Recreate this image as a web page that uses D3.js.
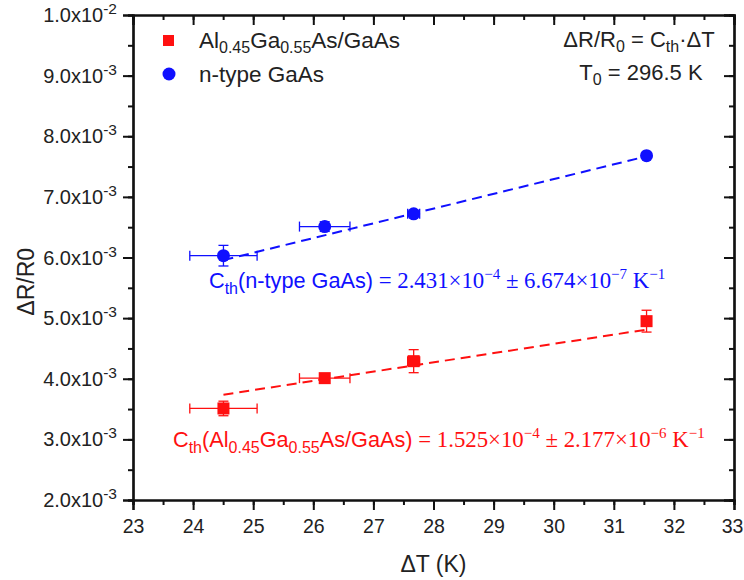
<!DOCTYPE html>
<html>
<head>
<meta charset="utf-8">
<script src="https://cdn.jsdelivr.net/npm/d3@7/dist/d3.min.js"></script>
<style>
  html, body { margin: 0; padding: 0; background: #fff; }
  svg { display: block; }
  text { font-family: "Liberation Sans", Arial, sans-serif; }
  .serif { font-family: "Liberation Serif", "Times New Roman", serif; }
</style>
</head>
<body>
<svg id="chart" width="744" height="580"></svg>
<script>
// ΔT (K) for each measurement, shared by both samples
const deltaT = [24.505, 26.19, 27.67, 31.545];
// horizontal uncertainty of ΔT
const deltaTErr = [0.56, 0.42, 0.1, 0.05];

// ΔR/R0 for the AlGaAs/GaAs sample
const algaasValues = [3.51e-3, 4.01e-3, 4.29e-3, 4.95e-3];
const algaasErr = [0.12e-3, 0.05e-3, 0.19e-3, 0.18e-3];
const algaasSlope = 1.525e-4;

// ΔR/R0 for the n-type GaAs sample
const gaasValues = [6.03e-3, 6.51e-3, 6.72e-3, 7.68e-3];
const gaasErr = [0.17e-3, 0.08e-3, 0.05e-3, 0.04e-3];
const gaasSlope = 2.431e-4;

// axis ticks
const xTicks = [23, 24, 25, 26, 27, 28, 29, 30, 31, 32, 33];
const yTickMantissa = ["2.0", "3.0", "4.0", "5.0", "6.0", "7.0", "8.0", "9.0", "1.0"];
const yTickExponent = ["-3", "-3", "-3", "-3", "-3", "-3", "-3", "-3", "-2"];
const yTicks = [2e-3, 3e-3, 4e-3, 5e-3, 6e-3, 7e-3, 8e-3, 9e-3, 1e-2];

const RED = "#ff1010";
const BLUE = "#1010ff";

const svg = d3.select("#chart");
const plotLeft = 133, plotRight = 734, plotTop = 15, plotBottom = 500;

const x = d3.scaleLinear().domain([23, 33]).range([plotLeft, plotRight]);
const y = d3.scaleLinear().domain([2e-3, 1e-2]).range([plotBottom, plotTop]);

const minorX = d3.range(23, 33.01, 0.5);
const minorY = d3.range(2e-3, 1.0001e-2, 0.5e-3);

// bottom axis (outward ticks)
const gB = svg.append("g").attr("transform", `translate(0,${plotBottom})`);
gB.call(d3.axisBottom(x).tickValues(minorX).tickSize(5).tickFormat(""));
gB.append("g").call(d3.axisBottom(x).tickValues(xTicks).tickSize(10).tickFormat(d3.format("d")));
// left axis (outward ticks)
const gL = svg.append("g").attr("transform", `translate(${plotLeft},0)`);
gL.call(d3.axisLeft(y).tickValues(minorY).tickSize(5).tickFormat(""));
gL.append("g").call(d3.axisLeft(y).tickValues(yTicks).tickSize(10).tickFormat(""));
// top mirror axis (inward ticks)
const gT = svg.append("g").attr("transform", `translate(0,${plotTop})`);
gT.call(d3.axisTop(x).tickValues(minorX).tickSize(-5).tickFormat(""));
gT.append("g").call(d3.axisTop(x).tickValues(xTicks).tickSize(-10).tickFormat(""));
// right mirror axis (inward ticks)
const gR = svg.append("g").attr("transform", `translate(${plotRight},0)`);
gR.call(d3.axisRight(y).tickValues(minorY).tickSize(-5).tickFormat(""));
gR.append("g").call(d3.axisRight(y).tickValues(yTicks).tickSize(-10).tickFormat(""));

svg.selectAll(".domain").attr("stroke", "#111").attr("stroke-width", 2.2);
svg.selectAll(".tick line").attr("stroke", "#111").attr("stroke-width", 2);
gB.selectAll(".tick text").attr("font-size", 19.5).attr("fill", "#222").attr("dy", "1.0em")
  .attr("font-family", "Liberation Sans, Arial, sans-serif")
  // keep the last label inside the page edge
  .attr("dx", d => d === 33 ? -2 : 0);

// y tick labels with superscript exponents
const yl = svg.append("g").selectAll("text").data(yTicks).join("text")
  .attr("x", plotLeft - 16).attr("y", d => y(d) + 7)
  .attr("text-anchor", "end").attr("font-size", 20).attr("fill", "#222");
yl.append("tspan").text((d, i) => yTickMantissa[i] + "x10");
yl.append("tspan").attr("font-size", 15.5).attr("dy", -8).text((d, i) => yTickExponent[i]);

// axis titles
svg.append("text").attr("x", x(28)).attr("y", 572).attr("text-anchor", "middle")
  .attr("font-size", 23).attr("fill", "#222").text("ΔT (K)");
svg.append("text").attr("transform", `translate(34,${y(5.6e-3)}) rotate(-90)`)
  .attr("text-anchor", "middle").attr("font-size", 23).attr("fill", "#222").text("ΔR/R0");

// dashed fits through the origin: ΔR/R0 = Cth·ΔT
const fitRange = [d3.min(deltaT), d3.max(deltaT)];
function drawFit(slope, color) {
  svg.append("line")
    .attr("x1", x(fitRange[0])).attr("y1", y(slope * fitRange[0]))
    .attr("x2", x(fitRange[1])).attr("y2", y(slope * fitRange[1]))
    .attr("stroke", color).attr("stroke-width", 2).attr("stroke-dasharray", "10,6");
}
drawFit(algaasSlope, RED);
drawFit(gaasSlope, BLUE);

// error bars and markers
function drawSeries(values, errs, color, shape) {
  const g = svg.append("g").attr("stroke", color).attr("stroke-width", 1.3);
  values.forEach((v, i) => {
    const cx = x(deltaT[i]), cy = y(v);
    const x0 = x(deltaT[i] - deltaTErr[i]), x1 = x(deltaT[i] + deltaTErr[i]);
    const y0 = y(v - errs[i]), y1 = y(v + errs[i]);
    g.append("line").attr("x1", x0).attr("x2", x1).attr("y1", cy).attr("y2", cy);
    g.append("line").attr("x1", x0).attr("x2", x0).attr("y1", cy - 5).attr("y2", cy + 5);
    g.append("line").attr("x1", x1).attr("x2", x1).attr("y1", cy - 5).attr("y2", cy + 5);
    g.append("line").attr("x1", cx).attr("x2", cx).attr("y1", y0).attr("y2", y1);
    g.append("line").attr("x1", cx - 5).attr("x2", cx + 5).attr("y1", y0).attr("y2", y0);
    g.append("line").attr("x1", cx - 5).attr("x2", cx + 5).attr("y1", y1).attr("y2", y1);
  });
  const m = svg.append("g").attr("fill", color);
  if (shape === "square") {
    m.selectAll("rect").data(values).join("rect")
      .attr("x", (d, i) => x(deltaT[i]) - 6).attr("y", d => y(d) - 6)
      .attr("width", 12).attr("height", 12);
  } else {
    m.selectAll("circle").data(values).join("circle")
      .attr("cx", (d, i) => x(deltaT[i])).attr("cy", d => y(d)).attr("r", 6.5);
  }
}
drawSeries(algaasValues, algaasErr, RED, "square");
drawSeries(gaasValues, gaasErr, BLUE, "circle");

// legend
svg.append("rect").attr("x", 163).attr("y", 35).attr("width", 11).attr("height", 11).attr("fill", RED);
svg.append("circle").attr("cx", 169).attr("cy", 74).attr("r", 6.5).attr("fill", BLUE);
const lg1 = svg.append("text").attr("x", 199).attr("y", 48).attr("font-size", 22.5).attr("fill", "#222");
lg1.append("tspan").text("Al");
lg1.append("tspan").attr("font-size", 16).attr("dy", 5).text("0.45");
lg1.append("tspan").attr("dy", -5).text("Ga");
lg1.append("tspan").attr("font-size", 16).attr("dy", 5).text("0.55");
lg1.append("tspan").attr("dy", -5).text("As/GaAs");
svg.append("text").attr("x", 199).attr("y", 82).attr("font-size", 22.5).attr("fill", "#222").text("n-type GaAs");

// model and reference temperature
const eq = svg.append("text").attr("x", 639).attr("y", 47).attr("text-anchor", "middle")
  .attr("font-size", 22).attr("fill", "#222");
eq.append("tspan").text("ΔR/R");
eq.append("tspan").attr("font-size", 16).attr("dy", 5).text("0");
eq.append("tspan").attr("dy", -5).text(" = C");
eq.append("tspan").attr("font-size", 16).attr("dy", 5).text("th");
eq.append("tspan").attr("dy", -5).text("·ΔT");
const t0 = svg.append("text").attr("x", 641).attr("y", 80).attr("text-anchor", "middle")
  .attr("font-size", 22).attr("fill", "#222");
t0.append("tspan").text("T");
t0.append("tspan").attr("font-size", 16).attr("dy", 5).text("0");
t0.append("tspan").attr("dy", -5).text(" = 296.5 K");

// fitted coefficient labels
function coefLabel(xp, yp, color, sansParts, mant, exp, errMant, errExp) {
  const t = svg.append("text").attr("x", xp).attr("y", yp).attr("fill", color).attr("font-size", 21.7);
  sansParts.forEach(p => {
    const s = t.append("tspan").text(p.t);
    if (p.sub) s.attr("font-size", 16).attr("dy", 6);
    if (p.up) s.attr("dy", -6);
  });
  const ser = (txt) => t.append("tspan").attr("class", "serif").attr("font-size", 22.8).text(txt);
  ser(" = " + mant + "×10");
  ser(exp).attr("font-size", 15).attr("dy", -9);
  ser(" ± " + errMant + "×10").attr("dy", 9);
  ser(errExp).attr("font-size", 15).attr("dy", -9);
  ser(" K").attr("dy", 9);
  ser("−1").attr("font-size", 15).attr("dy", -9);
}
coefLabel(209, 288, BLUE,
  [{t: "C"}, {t: "th", sub: true}, {t: "(n-type GaAs)", up: true}],
  "2.431", "−4", "6.674", "−7");
coefLabel(173, 447, RED,
  [{t: "C"}, {t: "th", sub: true}, {t: "(Al", up: true}, {t: "0.45", sub: true}, {t: "Ga", up: true},
   {t: "0.55", sub: true}, {t: "As/GaAs)", up: true}],
  "1.525", "−4", "2.177", "−6");
</script>
</body>
</html>
